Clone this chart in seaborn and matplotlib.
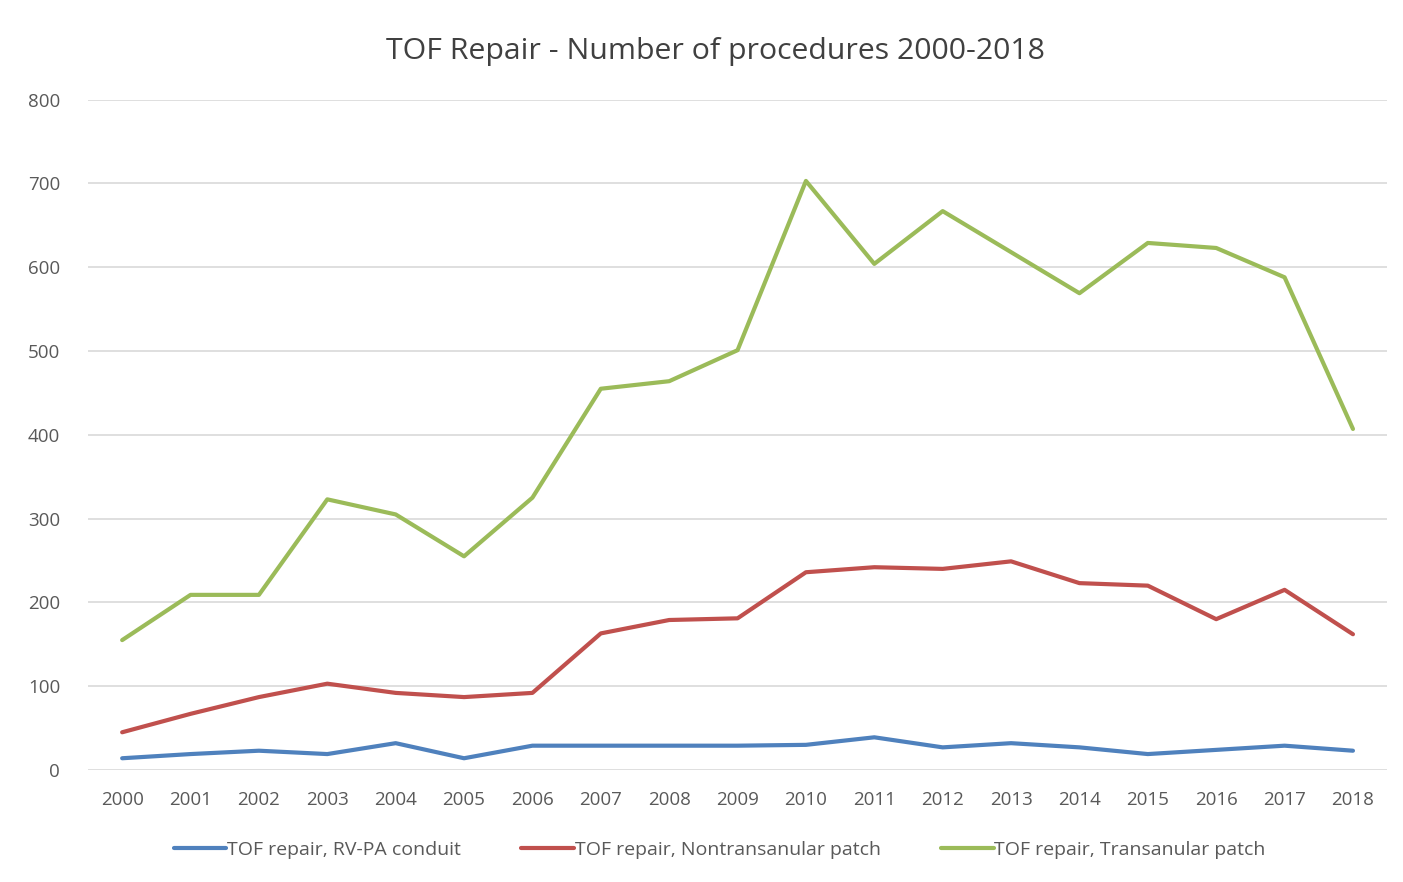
import matplotlib
matplotlib.use("Agg")
import matplotlib.pyplot as plt
import seaborn as sns
import pandas as pd

years = [str(y) for y in range(2000, 2019)]
rvpa_conduit = [14, 19, 23, 19, 32, 14, 29, 29, 29, 29, 30, 39, 27, 32, 27, 19, 24, 29, 23]
nontransanular = [45, 67, 87, 103, 92, 87, 92, 163, 179, 181, 236, 242, 240, 249, 223, 220, 180, 215, 162]
transanular = [155, 209, 209, 323, 305, 255, 325, 455, 464, 501, 703, 604, 667, 618, 569, 629, 623, 588, 407]
series_names = ["TOF repair, RV-PA conduit", "TOF repair, Nontransanular patch", "TOF repair, Transanular patch"]
colors = ["#4F81BD", "#C0504D", "#9BBB59"]

rows = []
for name, vals in zip(series_names, [rvpa_conduit, nontransanular, transanular]):
    for i, (yr, v) in enumerate(zip(years, vals)):
        rows.append({"idx": i, "year": yr, "value": v, "series": name})
df = pd.DataFrame(rows)

sns.set_theme(style="white")
plt.rcParams['font.family'] = ['Open Sans', 'DejaVu Sans']

fig = plt.figure(figsize=(14.03, 8.82), dpi=100)
ax = fig.add_axes([0.0627, 0.127, 0.926, 0.760])

sns.lineplot(data=df, x="idx", y="value", hue="series", palette=colors,
             hue_order=series_names, linewidth=3, ax=ax, legend=False)

ax.set_xlim(-0.5, len(years) - 0.5)
ax.set_ylim(0, 800)
ax.set_xticks(range(len(years)))
ax.set_xticklabels(years)
ax.set_yticks(range(0, 801, 100))
ax.yaxis.grid(True, color="#d9d9d9", linewidth=1.2)
ax.set_axisbelow(True)
for s in ax.spines.values():
    s.set_visible(False)
ax.tick_params(axis="both", colors="#595959", labelsize=13.5, length=0)
ax.tick_params(axis="x", pad=15)
ax.tick_params(axis="y", pad=20)
ax.set_xlabel("")
ax.set_ylabel("")

fig.suptitle("TOF Repair - Number of procedures 2000-2018", x=0.51, y=0.958, fontsize=21.8, color="#404040")

from matplotlib.lines import Line2D
handles = [Line2D([0], [0], color=c, linewidth=3) for c in colors]
fig.legend(handles, series_names, loc="center", bbox_to_anchor=(0.513, 0.036), ncol=3,
           frameon=False, fontsize=14, handlelength=2.7, handletextpad=0.05, columnspacing=3.1,
           labelcolor="#595959")

fig.savefig("out.png", dpi=100)
